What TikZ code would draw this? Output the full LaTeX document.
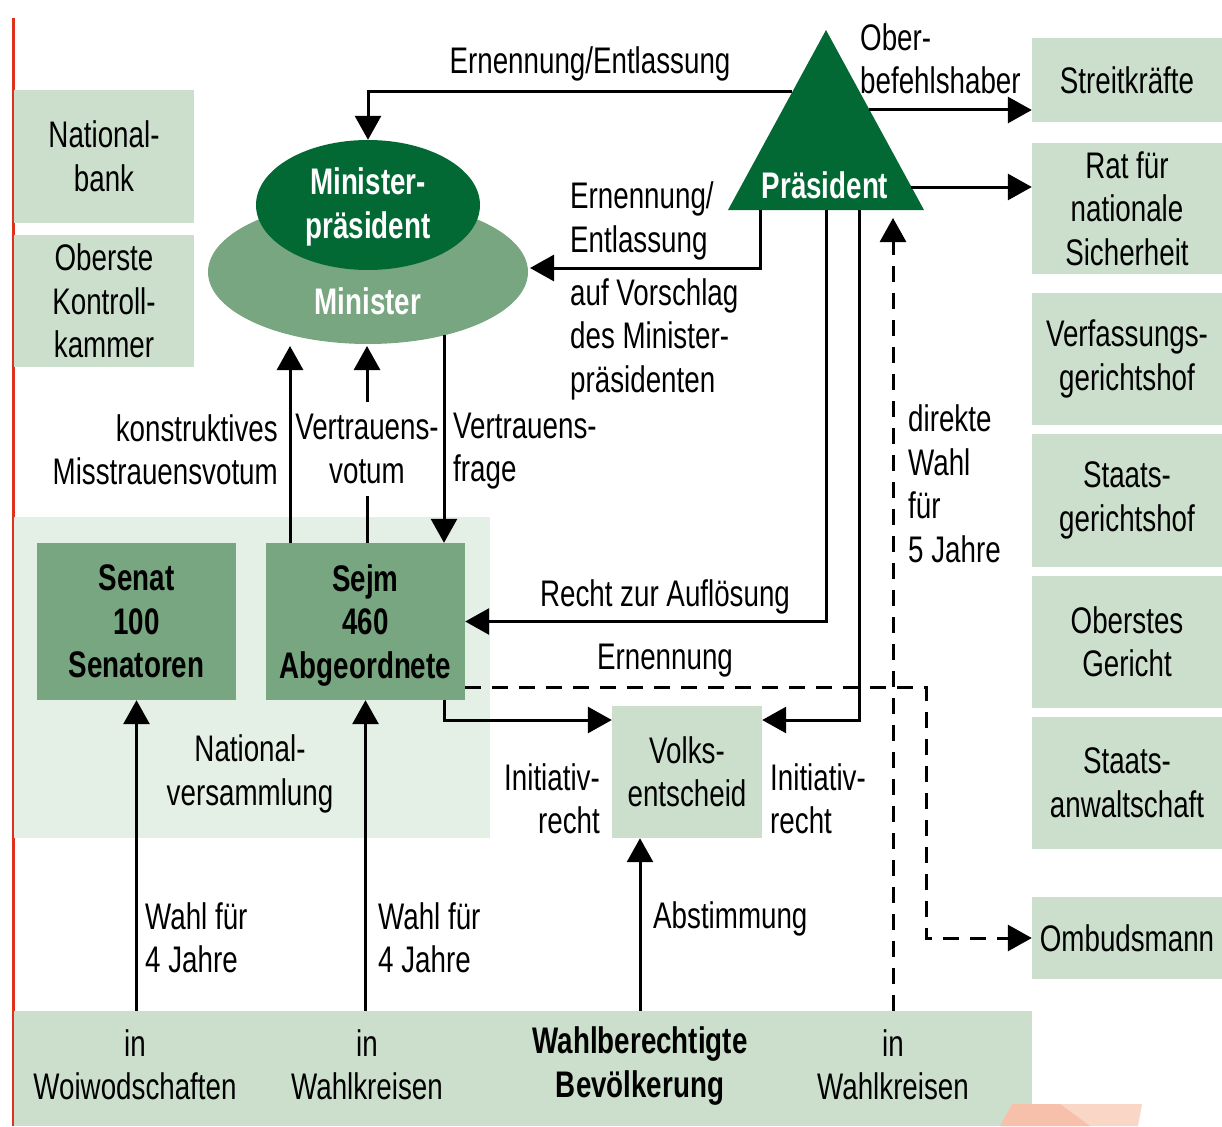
\documentclass[tikz,border=0pt]{standalone}
\usepackage{fontspec}
\setmainfont[FakeStretch=0.75]{Liberation Sans}
\usetikzlibrary{arrows.meta,shapes.geometric}
\definecolor{darkg}{RGB}{3,105,52}
\definecolor{midg}{RGB}{119,166,128}
\definecolor{lightg}{RGB}{203,223,204}
\definecolor{paleg}{RGB}{228,239,229}
\definecolor{redline}{RGB}{224,48,30}
\definecolor{salmon}{RGB}{250,214,198}
\definecolor{salmondk}{RGB}{246,192,170}
\begin{document}
\begin{tikzpicture}[x=1pt,y=-1pt,
  txt/.style={font=\fontsize{37}{43.5}\selectfont, inner sep=0pt, align=center, text=black},
  btxt/.style={txt, font=\fontsize{37}{43.5}\selectfont\bfseries},
  wtxt/.style={btxt, text=white},
  lbox/.style={txt, fill=lightg, minimum width=#1},
  gbox/.style={btxt, fill=midg, minimum width=199, minimum height=157},
  arr/.style={line width=3pt, -{Triangle[length=24pt,width=26pt]}},
  plain/.style={line width=3pt},
  dsh/.style={dash pattern=on 16pt off 11pt}
]
\useasboundingbox (0,0) rectangle (1222,1126);

% background areas
\fill[redline] (12,18) rectangle (14.5,1126);
\node[lbox=476, minimum height=321, fill=paleg] (na) at (252,677.5) {};
\node[lbox=1018, minimum height=115] (bar) at (523,1068.5) {};
\fill[salmon] (1000,1126) -- (1012,1104) -- (1142,1104) -- (1138,1126) -- cycle;
\fill[salmondk] (1012,1104) -- (1060,1104) -- (1090,1126) -- (1000,1126) -- cycle;

% left boxes
\node[lbox=180, minimum height=133] (nb) at (104,156.5) {National-\\bank};
\node[lbox=180, minimum height=132] (okk) at (104,301) {Oberste\\Kontroll-\\kammer};

% right column
\node[lbox=190, minimum height=84] (sk) at (1127,80) {Streitkräfte};
\node[lbox=190, minimum height=131] (rat) at (1127,208.5) {Rat für\\nationale\\Sicherheit};
\node[lbox=190, minimum height=132] (vgh) at (1127,359) {Verfassungs-\\gerichtshof};
\node[lbox=190, minimum height=133] (sgh) at (1127,500.5) {Staats-\\gerichtshof};
\node[lbox=190, minimum height=132] (og) at (1127,642) {Oberstes\\Gericht};
\node[lbox=190, minimum height=132] (sa) at (1127,783) {Staats-\\anwaltschaft};
\node[lbox=190, minimum height=82] (omb) at (1127,938) {Ombudsmann};

% government ellipses
\node[ellipse, fill=midg, minimum width=320, minimum height=144, inner sep=0pt] (min) at (368,272) {};
\node[ellipse, fill=darkg, minimum width=224, minimum height=130, inner sep=0pt] (mp) at (368,205) {};
\node[wtxt] (mptxt) at (368,207) {Minister-\\präsident};
\node[wtxt] (mintxt) at (368,301) {Minister};

% president triangle
\coordinate (tA) at (826,30);
\coordinate (tL) at (728,210);
\coordinate (tR) at (924,210);
\fill[darkg] (tA) -- (tR) -- (tL) -- cycle;
\node[wtxt] (pres) at (825,185) {Präsident};

% parliament, referendum
\node[gbox] (sen) at (136.5,621.5) {Senat\\100\\Senatoren};
\node[gbox] (sejm) at (365.5,621.5) {};
\node[btxt] (sejmtxt) at (365.5,625.5) {Sejm\\460\\Abgeordnete};
\node[lbox=150, minimum height=132] (volk) at (687,772) {Volks-\\entscheid};

% coordinates for connectors
\coordinate (t92) at (792,92);
\coordinate (t110) at (869,110);
\coordinate (t187) at (911,187);
\coordinate (b760) at (760,210);
\coordinate (m268) at (530,268);
\coordinate (b826) at (826,210);
\coordinate (b859) at (859,210);
\coordinate (v720) at (0,720);
\coordinate (d893) at (893,218);
\coordinate (e687) at (0,687);
\coordinate (k926) at (926,687);
\coordinate (s444) at (444,0);
\coordinate (m444) at (444,335);
\coordinate (m367) at (367,346);
\coordinate (m290) at (290,346);
\coordinate (a640) at (640,0);

% labels
\node[txt] (l1) at (590,64) {Ernennung/Entlassung};
\node[txt, anchor=west, align=left] (lob) at (860,59) {Ober-\\befehlshaber};
\node[txt, anchor=west, align=left] (l2) at (570,221) {Ernennung/\\Entlassung};
\node[txt, anchor=west, align=left] (lvs) at (570,339) {auf Vorschlag\\des Minister-\\präsidenten};
\node[txt, anchor=east, align=right] (lkm) at (278,450) {konstruktives\\Misstrauensvotum};
\node[txt, inner ysep=12pt] (lvv) at (367,449) {Vertrauens-\\votum};
\node[txt, anchor=west, align=left] (lvf) at (453,451) {Vertrauens-\\frage};
\node[txt, anchor=west, align=left] (ldw) at (908,484) {direkte\\Wahl\\für\\5 Jahre};
\node[txt] (lra) at (665,597) {Recht zur Auflösung};
\node[txt] (lern) at (665,661) {Ernennung};
\node[txt] (lna) at (250,774) {National-\\versammlung};
\node[txt, anchor=east, align=right] (li1) at (600,799) {Initiativ-\\recht};
\node[txt, anchor=west, align=left] (li2) at (770,799) {Initiativ-\\recht};
\node[txt, anchor=west, align=left] (lw1) at (145,938) {Wahl für\\4 Jahre};
\node[txt, anchor=west, align=left] (lw2) at (378,938) {Wahl für\\4 Jahre};
\node[txt, anchor=west] (lab) at (653,919) {Abstimmung};

% bottom bar texts
\node[txt] (bw1) at (135,1065) {in\\Woiwodschaften};
\node[txt] (bw2) at (367,1065) {in\\Wahlkreisen};
\node[btxt] (bw3) at (640,1066) {Wahlberechtigte\\Bevölkerung};
\node[txt] (bw4) at (893,1065) {in\\Wahlkreisen};

% connectors
\draw[arr] (t92) -| (mp.north);
\draw[arr] (t110) -- (sk.west |- t110);
\draw[arr] (t187) -- (rat.west |- t187);
\draw[arr] (b760) |- (m268);
\draw[arr] (b826) |- (sejm.east);
\draw[arr] (b859) |- (volk.east |- v720);
\draw[arr, dsh] (bar.north -| d893) -- (d893);
\draw[arr, dsh] (sejm.east |- e687) -- (k926) |- (omb.west);
\draw[arr] (sejm.south -| s444) |- (volk.west |- v720);
\draw[arr] (m444) -- (sejm.north -| m444);
\draw[plain] (sejm.north -| m367) -- (lvv.south -| m367);
\draw[arr] (lvv.north -| m367) -- (m367);
\draw[arr] (sejm.north -| m290) -- (m290);
\draw[arr] (bar.north -| sen.south) -- (sen.south);
\draw[arr] (bar.north -| sejm.south) -- (sejm.south);
\draw[arr] (bar.north -| a640) -- (volk.south -| a640);
\end{tikzpicture}
\end{document}
